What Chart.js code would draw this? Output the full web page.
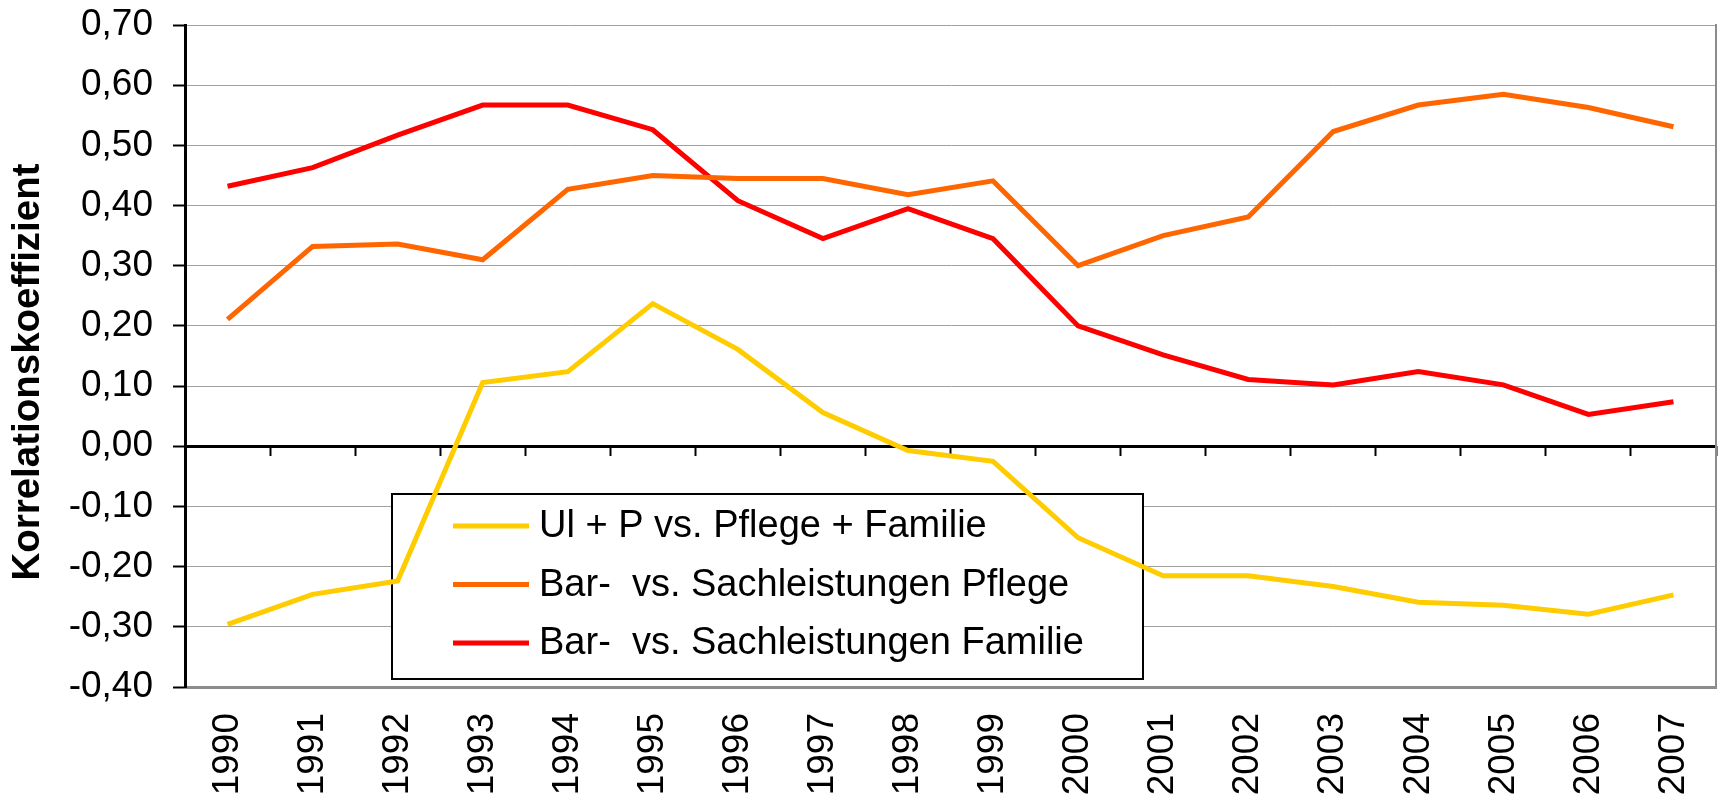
<!DOCTYPE html>
<html lang="de">
<head>
    <meta charset="UTF-8">
    <title>Korrelationskoeffizient 1990-2007</title>
    <script src="https://cdn.jsdelivr.net/npm/chart.js"></script>
    <style>
        body { margin: 0; background: #fff; }
        #wrap { width: 1721px; height: 800px; }
    </style>
</head>
<body>
<div id="wrap"><canvas id="corrChart" width="1721" height="800"></canvas></div>

<script>
    // Jahre (Kategorien)
    const years = ['1990', '1991', '1992', '1993', '1994', '1995', '1996', '1997', '1998',
        '1999', '2000', '2001', '2002', '2003', '2004', '2005', '2006', '2007'];

    // Reihen
    const ulpPflegeFamilie = [-0.296, -0.246, -0.224, 0.106, 0.124, 0.237, 0.161, 0.056, -0.007,
        -0.025, -0.152, -0.215, -0.215, -0.233, -0.259, -0.264, -0.279, -0.247];
    const barSachPflege = [0.211, 0.332, 0.336, 0.310, 0.427, 0.450, 0.445, 0.445, 0.418,
        0.441, 0.300, 0.350, 0.381, 0.523, 0.567, 0.585, 0.563, 0.531];
    const barSachFamilie = [0.432, 0.463, 0.517, 0.567, 0.567, 0.526, 0.408, 0.345, 0.395,
        0.345, 0.200, 0.152, 0.111, 0.102, 0.124, 0.102, 0.053, 0.074];

    const seriesNames = ['Ul + P vs. Pflege + Familie', 'Bar-  vs. Sachleistungen Pflege', 'Bar-  vs. Sachleistungen Familie'];
    const seriesColors = ['#FFCC00', '#FF6600', '#FF0000'];

    // Achse
    const yMin = -0.4, yMax = 0.7, yStep = 0.1;
    const yTitle = 'Korrelationskoeffizient   ';

    const FONT = '"Liberation Sans", Arial, sans-serif';

    // Legende im Diagramm (unter den Linien gezeichnet, wie im Original)
    const boxLegend = {
        id: 'boxLegend',
        beforeDatasetsDraw(chart) {
            const ctx = chart.ctx;
            const box = {x: 392, y: 494, w: 751, h: 185};
            ctx.save();
            ctx.fillStyle = '#fff';
            ctx.fillRect(box.x, box.y, box.w, box.h);
            ctx.strokeStyle = '#000';
            ctx.lineWidth = 2;
            ctx.strokeRect(box.x, box.y, box.w, box.h);
            ctx.font = '38px ' + FONT;
            ctx.textBaseline = 'middle';
            chart.data.datasets.forEach((ds, i) => {
                const cy = box.y + 32 + i * 58.5;
                ctx.strokeStyle = ds.borderColor;
                ctx.lineWidth = 5;
                ctx.beginPath();
                ctx.moveTo(box.x + 61, cy);
                ctx.lineTo(box.x + 137, cy);
                ctx.stroke();
                ctx.fillStyle = '#000';
                ctx.fillText(ds.label, box.x + 147, cy + 1);
            });
            ctx.restore();
        }
    };

    function createChart() {
        const datasets = [ulpPflegeFamilie, barSachPflege, barSachFamilie].map((values, i) => ({
            label: seriesNames[i],
            data: values,
            borderColor: seriesColors[i],
            backgroundColor: seriesColors[i],
            borderWidth: 5,
            pointRadius: 0,
            tension: 0,
            fill: false
        }));

        new Chart(document.getElementById('corrChart').getContext('2d'), {
            type: 'line',
            data: {labels: years, datasets: datasets},
            plugins: [boxLegend],
            options: {
                responsive: false,
                animation: false,
                events: [],
                layout: {padding: {top: 25, right: 5, left: 0, bottom: 0}},
                plugins: {legend: {display: false}, tooltip: {enabled: false}},
                scales: {
                    x: {
                        type: 'category',
                        position: 'bottom',
                        offset: true,
                        grid: {display: true, drawOnChartArea: false, drawTicks: false, offset: true},
                        border: {display: true, color: '#8c8c8c', width: 3},
                        ticks: {
                            color: '#000',
                            font: {family: FONT, size: 37},
                            minRotation: 90,
                            maxRotation: 90,
                            padding: 26,
                            autoSkip: false
                        },
                        afterFit(scale) {
                            scale.height = 113;
                            scale.paddingLeft = 0;
                            scale.paddingRight = 0;
                        }
                    },
                    x0: {
                        type: 'category',
                        position: {y: 0},
                        offset: true,
                        grid: {
                            display: true,
                            offset: true,
                            drawOnChartArea: false,
                            drawTicks: true,
                            tickLength: 10,
                            tickColor: '#000',
                            tickWidth: 2
                        },
                        border: {display: false},
                        ticks: {display: false},
                        afterFit(scale) {
                            scale.height = 0;
                            scale.paddingLeft = 0;
                            scale.paddingRight = 0;
                        }
                    },
                    y: {
                        position: 'left',
                        min: yMin,
                        max: yMax,
                        ticks: {
                            stepSize: yStep,
                            color: '#000',
                            font: {family: FONT, size: 37},
                            padding: 20,
                            callback: v => v.toFixed(2).replace('.', ',')
                        },
                        grid: {
                            color: c => (c.tick && Math.abs(c.tick.value) < 1e-9) ? '#000' : '#a0a0a0',
                            lineWidth: c => (c.tick && Math.abs(c.tick.value) < 1e-9) ? 3 : 1,
                            tickColor: '#000',
                            tickWidth: 2,
                            tickLength: 12
                        },
                        border: {display: true, color: '#000', width: 3},
                        title: {
                            display: true,
                            text: yTitle,
                            color: '#000',
                            font: {family: FONT, size: 38.5, weight: 'bold'},
                            padding: {top: 5, bottom: 0}
                        },
                        afterFit(scale) {
                            scale.width = 185;
                            scale.paddingTop = 0;
                            scale.paddingBottom = 0;
                        }
                    },
                    yR: {
                        position: 'right',
                        min: yMin,
                        max: yMax,
                        ticks: {display: false},
                        grid: {display: true, drawOnChartArea: false, drawTicks: false},
                        border: {display: true, color: '#8c8c8c', width: 2},
                        afterFit(scale) {
                            scale.width = 0;
                            scale.paddingTop = 0;
                            scale.paddingBottom = 0;
                        }
                    }
                }
            }
        });
    }

    window.onload = createChart;
</script>
</body>
</html>
